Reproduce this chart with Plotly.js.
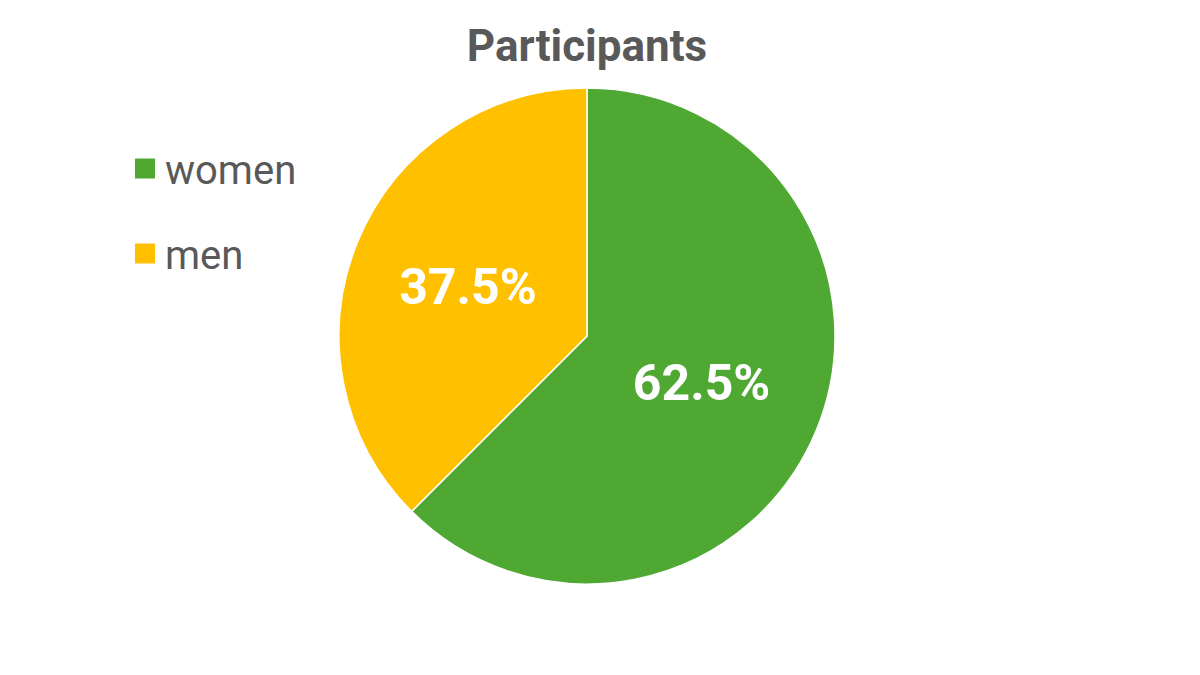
<!DOCTYPE html>
<html>
<head>
<meta charset="utf-8">
<script src="https://cdn.plot.ly/plotly-3.0.1.min.js"></script>
<style>
  html, body { margin: 0; padding: 0; background: #fff; }
  #plot { width: 1200px; height: 675px; }
</style>
</head>
<body>
<div id="plot"></div>
<script>
"use strict";

// Participants split
const labels = ["women", "men"];
const values = [62.5, 37.5];
const colors = ["#4FA832", "#FFC000"];

const FONT = "Roboto, 'Noto Sans', sans-serif";

const traces = [];

// ── Pie ──
traces.push({
    type: "pie",
    labels: labels,
    values: values,
    sort: false,
    direction: "clockwise",
    rotation: 0,
    marker: { colors: colors, line: { color: "#ffffff", width: 1.5 } },
    textinfo: "percent",
    texttemplate: "%{percent:.1%}",
    textposition: "inside",
    insidetextorientation: "horizontal",
    insidetextfont: { family: FONT, size: 50, color: "#ffffff", weight: 700 },
    hoverinfo: "label+percent",
    showlegend: false,
    domain: { x: [339 / 1200, 835 / 1200], y: [91 / 675, 587 / 675] },
});

// ── Legend stubs ──
// Null-coordinate scatter traces; the legend caps marker size at 16 px,
// so a same-colour outline brings the squares up to ~20 px.
labels.forEach((lab, i) => {
    traces.push({
        type: "scatter", mode: "markers",
        x: [null], y: [null],
        marker: { size: 16, color: colors[i], symbol: "square",
                  line: { color: colors[i], width: 4 } },
        name: lab, legendgroup: lab,
        showlegend: true, hoverinfo: "skip",
    });
});

const layout = {
    width: 1200, height: 675,
    margin: { l: 0, r: 0, t: 0, b: 0 },
    paper_bgcolor: "#ffffff", plot_bgcolor: "#ffffff",
    title: {
        text: "<b>Participants</b>",
        x: 587 / 1200, xanchor: "center",
        y: 1 - 46 / 675, yanchor: "middle",
        font: { family: FONT, size: 44, color: "#595959" },
    },
    xaxis: { visible: false },
    yaxis: { visible: false },
    showlegend: true,
    legend: {
        x: 125 / 1200, xanchor: "left",
        y: 1 - 136 / 675, yanchor: "top",
        font: { family: FONT, size: 40, color: "#595959" },
        traceorder: "grouped",
        tracegroupgap: 30,
        itemsizing: "trace",
        bgcolor: "rgba(0,0,0,0)",
    },
};

Plotly.newPlot("plot", traces, layout, { displayModeBar: false, staticPlot: true });
</script>
</body>
</html>
